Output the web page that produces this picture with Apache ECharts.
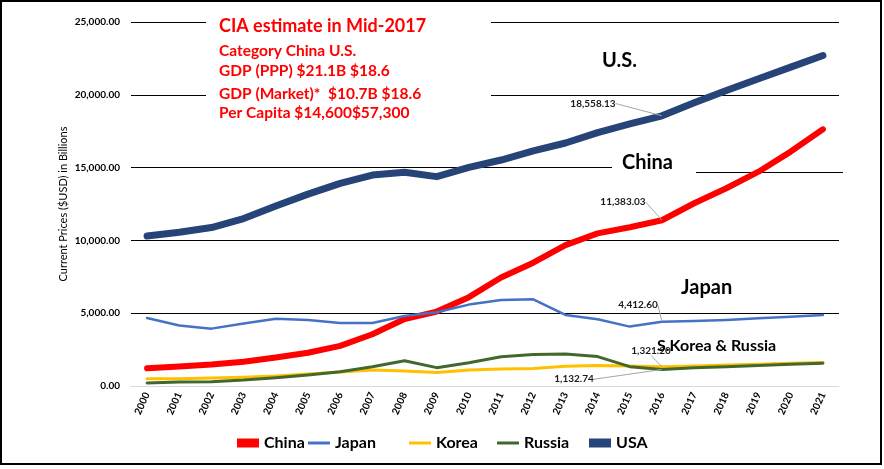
<!DOCTYPE html>
<html><head><meta charset="utf-8">
<script src="https://cdn.jsdelivr.net/npm/echarts@6/dist/echarts.min.js"></script>
<style>html,body{margin:0;padding:0;background:#fff}#c{width:884px;height:469px}</style>
</head><body><div id="c"></div>
<script>
const years = ['2000','2001','2002','2003','2004','2005','2006','2007','2008','2009','2010','2011','2012','2013','2014','2015','2016','2017','2018','2019','2020','2021'];
const china  = [1211,1339,1471,1660,1955,2286,2752,3552,4598,5110,6101,7450,8470,9680,10480,10900,11383.03,12550,13580,14720,16100,17630];
const japan  = [4670,4150,3940,4300,4620,4540,4330,4330,4810,5060,5590,5910,5950,4880,4580,4080,4412.60,4470,4540,4650,4760,4880];
const korea  = [505,505,550,600,690,830,960,1100,1030,920,1100,1170,1210,1350,1400,1380,1321.20,1380,1440,1500,1560,1610];
const russia = [206,270,300,410,570,760,985,1320,1740,1260,1600,2010,2170,2200,2020,1330,1132.74,1250,1330,1410,1490,1570];
const usa    = [10300,10560,10880,11500,12360,13180,13920,14490,14680,14380,15020,15520,16150,16690,17400,18000,18558.13,19450,20300,21100,21900,22700];
const labelIndex = 16;

const FONT = 'Lato, "Open Sans", sans-serif';
function fmt(v){return v.toLocaleString('en-US',{minimumFractionDigits:2,maximumFractionDigits:2});}

function mkData(arr){
  return arr.map((v,i)=> i===labelIndex ? {value:v,label:{show:true}} : v);
}
function mkSeries(name, arr, color, width, dx, dy){
  return {
    name, type:'line', data:mkData(arr), showSymbol:true, symbol:'circle', symbolSize:0.5,
    lineStyle:{color, width, cap:'round', join:'round'}, itemStyle:{color},
    label:{show:false, position:'top', formatter:p=>fmt(p.value), color:'#1a1a1a',
      fontFamily:FONT, fontSize:10, fontWeight:'bold'},
    labelLayout:{dx, dy},
    labelLine:{show:true, lineStyle:{color:'#a6a6a6', width:1}},
    emphasis:{disabled:true}, silent:true, animation:false
  };
}

const chart = echarts.init(document.getElementById('c'), null, {renderer:'canvas'});
const legendItems = [
  {name:'China', left:232, h:9},
  {name:'Japan', left:303, h:3},
  {name:'Korea', left:404, h:3},
  {name:'Russia', left:492, h:3},
  {name:'USA', left:584, h:9}
];
chart.setOption({
  animation:false,
  backgroundColor:'#fff',
  grid:{left:131, right:45, top:22, bottom:83, containLabel:false},
  legend: legendItems.map(l=>({
    data:[{name:l.name, icon:'rect'}], left:l.left, top:430, itemWidth:22, itemHeight:l.h, itemGap:5,
    textStyle:{fontFamily:FONT, fontSize:16, fontWeight:'bold', color:'#000'}, selectedMode:false
  })),
  xAxis:{type:'category', data:years, boundaryGap:true,
    axisLine:{show:true, lineStyle:{color:'#d9d9d9', width:1}}, axisTick:{show:false},
    axisLabel:{rotate:65, fontFamily:FONT, fontSize:10, fontWeight:'bold', color:'#000', margin:7, interval:0}},
  yAxis:{type:'value', min:0, max:25000, interval:5000,
    name:'Current Prices ($USD) in Billions', nameLocation:'middle', nameGap:62, nameRotate:90,
    nameMoveOverlap:false,
    nameTextStyle:{fontFamily:FONT, fontSize:11, color:'#000'},
    axisLine:{show:false}, axisTick:{show:false},
    axisLabel:{formatter:v=>fmt(v), fontFamily:FONT, fontSize:10, fontWeight:'bold', color:'#000', margin:11},
    splitLine:{show:true, lineStyle:{color:'#000', width:1.2}}},
  series:[
    mkSeries('China', china, '#ff0000', 6, -39, -8),
    mkSeries('Japan', japan, '#4472c4', 2.5, -24, -7),
    mkSeries('Korea', korea, '#ffc000', 3, -11, -6),
    mkSeries('Russia', russia, '#43682b', 3, -88, 20),
    mkSeries('USA', usa, '#264478', 7, -69, -2)
  ],
  graphic:[
    {type:'rect', z:1, shape:{x:206, y:8, width:285, height:118}, style:{fill:'#fff'}},
    {type:'rect', z:1, shape:{x:612, y:160, width:232, height:10}, style:{fill:'#fff'}},
    {type:'line', z:1, shape:{x1:696, y1:172.5, x2:843, y2:172.5}, style:{stroke:'#000', lineWidth:1}},
    {type:'text', z:10, left:219, top:17, style:{text:'CIA estimate in Mid-2017', fill:'#ff0000', font:'bold 18px '+FONT}},
    {type:'text', z:10, left:219, top:43, style:{text:'Category China U.S.', fill:'#ff0000', font:'bold 15.5px '+FONT}},
    {type:'text', z:10, left:219, top:63, style:{text:'GDP (PPP) $21.1B $18.6', fill:'#ff0000', font:'bold 15.5px '+FONT}},
    {type:'text', z:10, left:219, top:86, style:{text:'GDP (Market)*  $10.7B $18.6', fill:'#ff0000', font:'bold 15.5px '+FONT}},
    {type:'text', z:10, left:219, top:105, style:{text:'Per Capita $14,600$57,300', fill:'#ff0000', font:'bold 15.5px '+FONT}},
    {type:'text', z:10, left:602, top:51, style:{text:'U.S.', fill:'#000', font:'bold 20px '+FONT}},
    {type:'text', z:10, left:622, top:153, style:{text:'China', fill:'#000', font:'bold 20px '+FONT}},
    {type:'text', z:10, left:681, top:278, style:{text:'Japan', fill:'#000', font:'bold 20px '+FONT}},
    {type:'text', z:10, left:657, top:338, style:{text:'S.Korea & Russia', fill:'#000', font:'bold 16px '+FONT}},
    {type:'rect', z:20, shape:{x:1, y:1, width:880, height:463}, style:{fill:'none', stroke:'#000', lineWidth:2}}
  ]
});
</script></body></html>
